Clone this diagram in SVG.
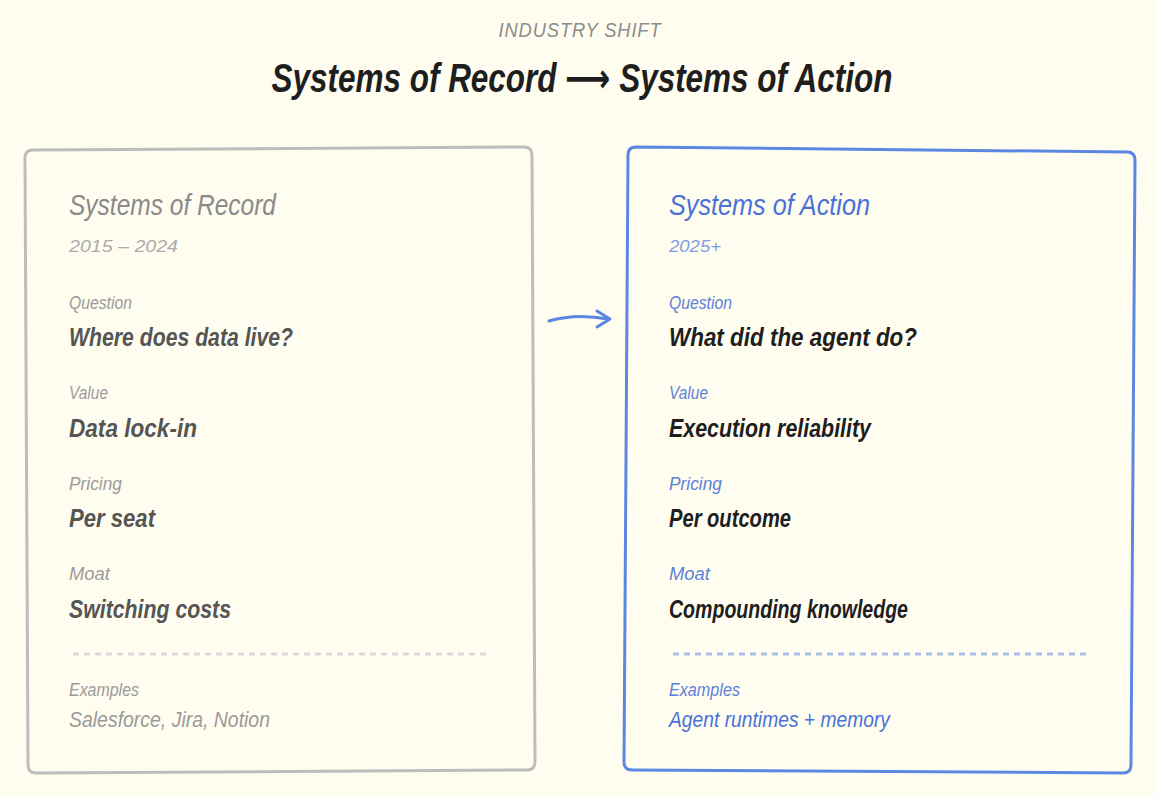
<svg xmlns="http://www.w3.org/2000/svg" width="1156" height="797" viewBox="0 0 1156 797">
<defs>
<style>
text{font-family:"Liberation Sans","DejaVu Sans",sans-serif;font-style:italic}
.kick{font-size:21px;fill:#8c8c8c;letter-spacing:1px}
.h1{font-size:40px;font-weight:bold;fill:#1e1e1e}
.ct{font-size:29px}
.dt{font-size:17px}
.lb{font-size:18px}
.vl{font-size:26px;font-weight:bold}
.ex{font-size:22px}
.g .ct{fill:#8a8a8a}.g .dt{fill:#ababab}.g .lb{fill:#9a9a9a}.g .vl{fill:#555555}.g .ex{fill:#9a9a9a}
.b .ct{fill:#4a72d6}.b .dt{fill:#7f9de2}.b .lb{fill:#5d80d8}.b .vl{fill:#1e1e1e}.b .ex{fill:#4a72d6}
.box{fill:#fffdf0;stroke-width:3;stroke-linejoin:round}
</style>
</defs>
<rect width="1156" height="797" fill="#fffdf0"/>
<g id="header">
<text class="kick" x="580" y="37" text-anchor="middle" textLength="163" lengthAdjust="spacingAndGlyphs">INDUSTRY SHIFT</text>
<text class="h1" x="582" y="92" text-anchor="middle" textLength="621" lengthAdjust="spacingAndGlyphs">Systems of Record ⟶ Systems of Action</text>
</g>
<g id="record" class="g">
<path class="box" stroke="#bdbdbd" d="M33 150 L524 147 Q532 147 532 155 L535 762 Q535 770 527 770 L36 773 Q28 773 28 765 L25 158 Q25 150 33 150 Z"/>
<text class="ct" x="69" y="215" textLength="207" lengthAdjust="spacingAndGlyphs">Systems of Record</text>
<text class="dt" x="69" y="252" textLength="109" lengthAdjust="spacingAndGlyphs">2015 – 2024</text>
<text class="lb" x="69" y="309" textLength="63" lengthAdjust="spacingAndGlyphs">Question</text>
<text class="vl" x="69" y="346" textLength="224" lengthAdjust="spacingAndGlyphs">Where does data live?</text>
<text class="lb" x="69" y="399" textLength="39" lengthAdjust="spacingAndGlyphs">Value</text>
<text class="vl" x="69" y="437" textLength="128" lengthAdjust="spacingAndGlyphs">Data lock-in</text>
<text class="lb" x="69" y="490" textLength="53" lengthAdjust="spacingAndGlyphs">Pricing</text>
<text class="vl" x="69" y="527" textLength="86" lengthAdjust="spacingAndGlyphs">Per seat</text>
<text class="lb" x="69" y="580" textLength="41" lengthAdjust="spacingAndGlyphs">Moat</text>
<text class="vl" x="69" y="618" textLength="162" lengthAdjust="spacingAndGlyphs">Switching costs</text>
<line x1="73" y1="654" x2="487" y2="654" stroke="#d9d9d9" stroke-width="3" stroke-dasharray="6 5"/>
<text class="lb" x="69" y="696" textLength="70" lengthAdjust="spacingAndGlyphs">Examples</text>
<text class="ex" x="69" y="727" textLength="201" lengthAdjust="spacingAndGlyphs">Salesforce, Jira, Notion</text>
</g>
<g id="connectors">
<path d="M549 321 Q576 313 608 319" fill="none" stroke="#5b87e0" stroke-width="3" stroke-linecap="round"/>
<path d="M597 311 L610 319 L597 327" fill="none" stroke="#5b87e0" stroke-width="3" stroke-linecap="round" stroke-linejoin="round"/>
</g>
<g id="action" class="b">
<path class="box" stroke="#5b87e0" d="M636 147 L1127 152 Q1135 152 1135 160 L1131 765 Q1131 773 1123 773 L632 770 Q624 770 624 762 L628 155 Q628 147 636 147 Z"/>
<text class="ct" x="669" y="215" textLength="201" lengthAdjust="spacingAndGlyphs">Systems of Action</text>
<text class="dt" x="669" y="252" textLength="52" lengthAdjust="spacingAndGlyphs">2025+</text>
<text class="lb" x="669" y="309" textLength="63" lengthAdjust="spacingAndGlyphs">Question</text>
<text class="vl" x="669" y="346" textLength="248" lengthAdjust="spacingAndGlyphs">What did the agent do?</text>
<text class="lb" x="669" y="399" textLength="39" lengthAdjust="spacingAndGlyphs">Value</text>
<text class="vl" x="669" y="437" textLength="202" lengthAdjust="spacingAndGlyphs">Execution reliability</text>
<text class="lb" x="669" y="490" textLength="53" lengthAdjust="spacingAndGlyphs">Pricing</text>
<text class="vl" x="669" y="527" textLength="122" lengthAdjust="spacingAndGlyphs">Per outcome</text>
<text class="lb" x="669" y="580" textLength="41" lengthAdjust="spacingAndGlyphs">Moat</text>
<text class="vl" x="669" y="618" textLength="239" lengthAdjust="spacingAndGlyphs">Compounding knowledge</text>
<line x1="673" y1="654" x2="1088" y2="654" stroke="#a9bfea" stroke-width="3" stroke-dasharray="6 5"/>
<text class="lb" x="669" y="696" textLength="71" lengthAdjust="spacingAndGlyphs">Examples</text>
<text class="ex" x="669" y="727" textLength="221" lengthAdjust="spacingAndGlyphs">Agent runtimes + memory</text>
</g>
</svg>
